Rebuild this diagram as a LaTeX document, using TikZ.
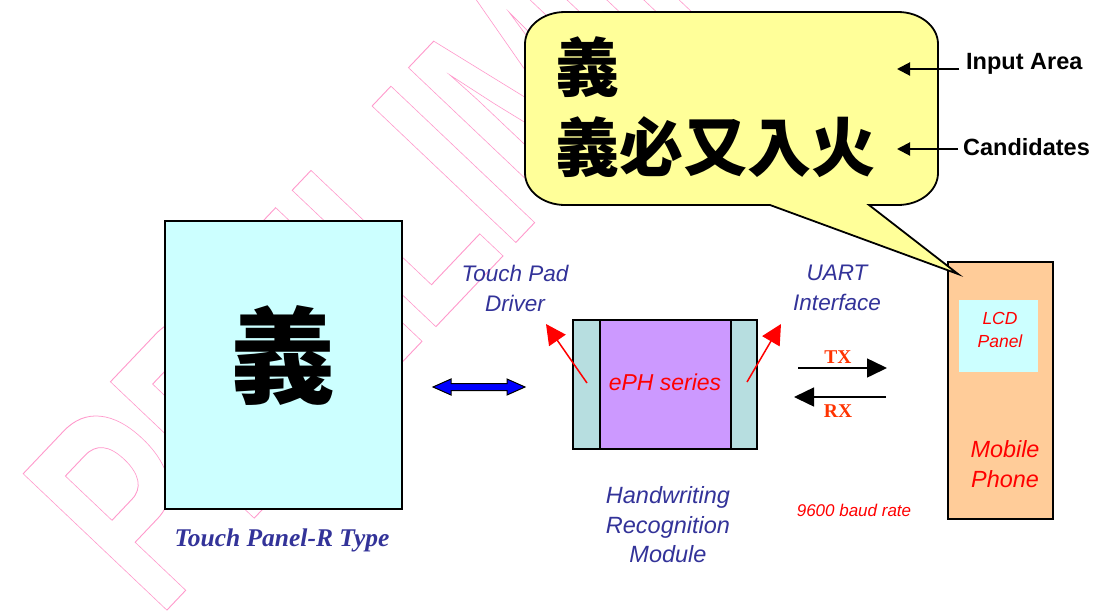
\documentclass[tikz,border=0pt]{standalone}
\usepackage{fontspec}
\setmainfont{Liberation Sans}
\newfontfamily\serifface{Liberation Serif}
\newfontfamily\cjk{Noto Sans CJK TC}
\usetikzlibrary{arrows.meta}
\definecolor{navy}{HTML}{333399}
\definecolor{wmpink}{HTML}{FF99CC}
\definecolor{panelcyan}{HTML}{CCFFFF}
\definecolor{ephpurple}{HTML}{CC99FF}
\definecolor{sidegray}{HTML}{B7DEE0}
\definecolor{phoneorange}{HTML}{FFCC99}
\definecolor{bubbleyellow}{HTML}{FFFF99}
\definecolor{txred}{HTML}{FF3300}
\newcommand\strokeon{\special{pdf:literal direct q 1 Tr 0.9 w}}
\newcommand\strokeoff{\special{pdf:literal direct Q}}
\begin{document}
\begin{tikzpicture}[x=1pt,y=-1pt,
  panelbox/.style={draw=black, line width=1.6pt, inner sep=0pt},
  lbl/.style={inner sep=0pt, align=center},
  navylbl/.style={lbl, text=navy, font=\itshape\fontsize{22.5}{30}\selectfont},
  redlbl/.style={lbl, text=red, font=\itshape\fontsize{23}{30}\selectfont},
  redarrow/.style={draw=red, line width=1.5pt, -{Triangle[length=20pt,width=20pt]}},
  bkarrow/.style={draw=black, line width=1.5pt, -{Triangle[length=20pt,width=19pt]}},
  smallarrow/.style={draw=black, line width=2pt, -{Triangle[length=13pt,width=13pt]}},
  cjktext/.style={inner sep=0pt, font=\cjk\bfseries\fontsize{#1}{#1}\selectfont},
  sidelbl/.style={inner sep=0pt, anchor=west, font=\bfseries\fontsize{23.5}{28}\selectfont}
]
\useasboundingbox (0,0) rectangle (1095,611);
\clip (0,0) rectangle (1095,611);
\fill[white] (0,0) rectangle (1095,611);

% watermark
\node[inner sep=0pt, anchor=base west, rotate=46.5, text=wmpink,
      font=\bfseries\fontsize{288}{288}\selectfont] (wmark) at (158,619.5)
  {\scalebox{0.66}[1]{\strokeon PRELIMINARY\strokeoff}};

% touch panel
\node[panelbox, fill=panelcyan, minimum width=237, minimum height=288] (tp) at (283.5,365) {};
\node[cjktext=105] (tpchar) at (283,355) {義};
\node[inner sep=0pt, text=navy, font=\serifface\bfseries\itshape\fontsize{25.5}{30}\selectfont] (tplbl) at (282,540) {Touch Panel-R Type};

% blue double arrow
\coordinate (ba1) at (433,387);
\coordinate (ba2) at (525,387);
\draw[fill=blue, draw=black, line width=1pt]
  (ba1) -- (451,379) -- (451,383.5) -- (507,383.5) -- (507,379) -- (ba2)
  -- (507,395) -- (507,390.5) -- (451,390.5) -- (451,395) -- cycle;

% ePH module
\node[panelbox, fill=sidegray, minimum width=184, minimum height=129] (eph) at (665,384.5) {};
\node[panelbox, fill=ephpurple, minimum width=131, minimum height=129] (ephcore) at (665.5,384.5) {};
\node[inner sep=0pt, text=red, font=\itshape\fontsize{23}{28}\selectfont] (ephlbl) at (665,382) {ePH series};

\coordinate (la0) at (587,383);
\coordinate (la1) at (546,324);
\coordinate (ra0) at (747,382);
\coordinate (ra1) at (781,324);
\draw[redarrow] (la0) -- (la1);
\draw[redarrow] (ra0) -- (ra1);

\node[navylbl] (tpd) at (515,288) {Touch Pad\\Driver};
\node[navylbl] (uart) at (837,288) {UART\\Interface};
\node[navylbl, font=\itshape\fontsize{23.5}{29.5}\selectfont] (hrm) at (668,525) {Handwriting\\Recognition\\Module};
\node[inner sep=0pt, text=red, font=\itshape\fontsize{17}{20}\selectfont] (baud) at (854,510) {9600 baud rate};

% TX / RX
\coordinate (tx0) at (798,368);
\coordinate (tx1) at (887,368);
\coordinate (rx0) at (886,397);
\coordinate (rx1) at (794,397);
\draw[bkarrow] (tx0) -- (tx1);
\draw[bkarrow] (rx0) -- (rx1);
\node[inner sep=0pt, text=txred, font=\serifface\bfseries\fontsize{19.5}{22}\selectfont] (txl) at (838,357) {TX};
\node[inner sep=0pt, text=txred, font=\serifface\bfseries\fontsize{19.5}{22}\selectfont] (rxl) at (838,411) {RX};

% mobile phone
\node[panelbox, fill=phoneorange, minimum width=105, minimum height=257] (phone) at (1000.5,390.5) {};
\node[inner sep=0pt, fill=panelcyan, minimum width=79, minimum height=72] (lcd) at (998.5,336) {};
\node[lbl, text=red, font=\itshape\fontsize{17.5}{23}\selectfont] (lcdlbl) at (1000,330) {LCD\\Panel};
\node[redlbl, font=\itshape\fontsize{23.4}{30}\selectfont] (mplbl) at (1005,464) {Mobile\\Phone};

% speech bubble
\coordinate (tip) at (958,274);
\draw[fill=bubbleyellow, draw=black, line width=1.8pt, line join=miter]
  (770,205) -- (tip) -- (869,205) -- (898,205)
  .. controls (920.1,205) and (938,190.7) .. (938,173)
  -- (938,44) .. controls (938,26.3) and (920.1,12) .. (898,12)
  -- (565,12) .. controls (542.9,12) and (525,26.3) .. (525,44)
  -- (525,173) .. controls (525,190.7) and (542.9,205) .. (565,205)
  -- cycle;
\node[cjktext=64, anchor=west] (in1) at (555,67) {義};
\node[cjktext=64, anchor=west] (in2) at (555,147) {義必又入火};

\node[sidelbl] (ia) at (966,64) {Input Area};
\node[sidelbl] (cd) at (963,147) {Candidates};
\coordinate (ia0) at (959,69);
\coordinate (ia1) at (897,69);
\coordinate (cd0) at (958,149);
\coordinate (cd1) at (897,149);
\draw[smallarrow] (ia0) -- (ia1);
\draw[smallarrow] (cd0) -- (cd1);
\end{tikzpicture}
\end{document}
